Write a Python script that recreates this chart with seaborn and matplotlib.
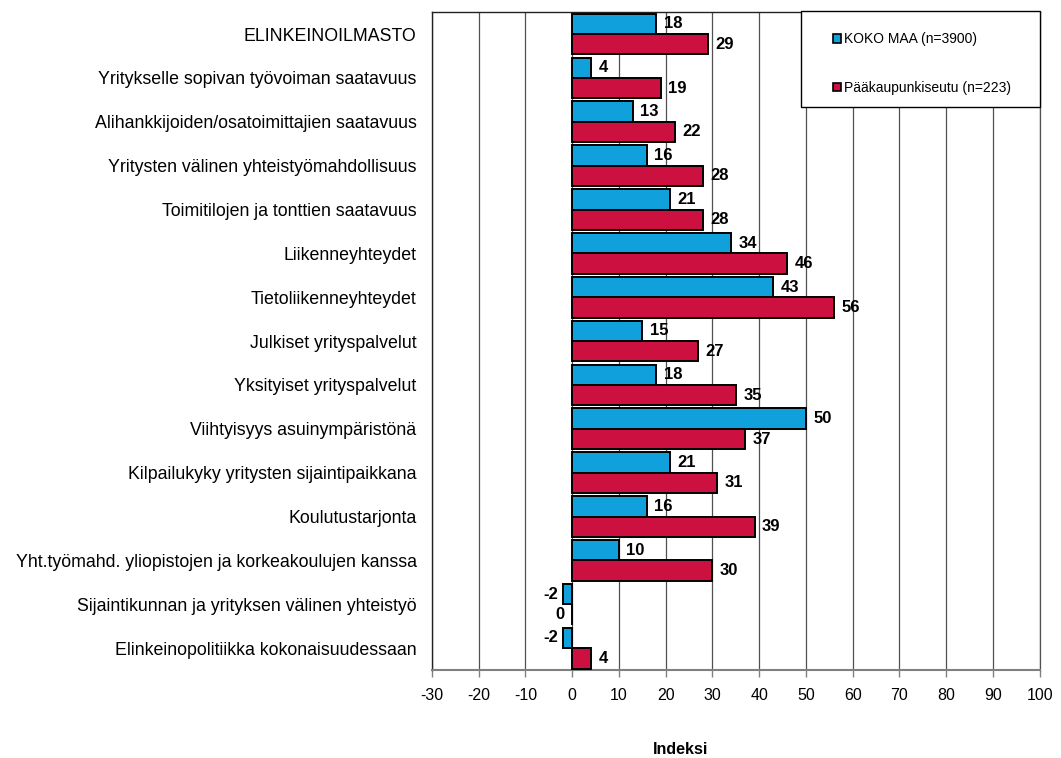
import pandas as pd
import numpy as np
import matplotlib
matplotlib.use("Agg")
import matplotlib.pyplot as plt
from matplotlib.patches import Rectangle
import seaborn as sns

categories = [
    "ELINKEINOILMASTO",
    "Yritykselle sopivan työvoiman saatavuus",
    "Alihankkijoiden/osatoimittajien saatavuus",
    "Yritysten välinen yhteistyömahdollisuus",
    "Toimitilojen ja tonttien saatavuus",
    "Liikenneyhteydet",
    "Tietoliikenneyhteydet",
    "Julkiset yrityspalvelut",
    "Yksityiset yrityspalvelut",
    "Viihtyisyys asuinympäristönä",
    "Kilpailukyky yritysten sijaintipaikkana",
    "Koulutustarjonta",
    "Yht.työmahd. yliopistojen ja korkeakoulujen kanssa",
    "Sijaintikunnan ja yrityksen välinen yhteistyö",
    "Elinkeinopolitiikka kokonaisuudessaan",
]
koko_maa = [18, 4, 13, 16, 21, 34, 43, 15, 18, 50, 21, 16, 10, -2, -2]
paakaupunkiseutu = [29, 19, 22, 28, 28, 46, 56, 27, 35, 37, 31, 39, 30, 0, 4]
series_names = ["KOKO MAA (n=3900)", "Pääkaupunkiseutu (n=223)"]
xticks = list(range(-30, 101, 10))

df = pd.DataFrame({
    "Kategoria": categories * 2,
    "Indeksi": koko_maa + paakaupunkiseutu,
    "Sarja": [series_names[0]] * len(categories) + [series_names[1]] * len(categories),
})

sns.set_theme(style="white")
plt.rcParams["font.family"] = ["Liberation Sans", "DejaVu Sans"]
plt.rcParams["text.color"] = "black"
plt.rcParams["axes.labelcolor"] = "black"

fig = plt.figure(figsize=(10.61, 7.58), dpi=100)
ax = fig.add_axes([0.407, 0.116, 0.573, 0.868])

palette = {series_names[0]: "#10A0DC", series_names[1]: "#CC1040"}
sns.barplot(data=df, y="Kategoria", x="Indeksi", hue="Sarja", order=categories,
            hue_order=series_names, palette=palette, orient="h", width=0.93,
            edgecolor="black", linewidth=1.4, saturation=1, ax=ax, zorder=3,
            legend=True)

# value labels
for cont in ax.containers:
    for bar in cont:
        v = bar.get_width()
        yc = bar.get_y() + bar.get_height() / 2
        if v < 0:
            ax.text(v - 1.0, yc, f"{v:.0f}", ha="right", va="center",
                    fontsize=12, fontweight="bold", color="black", zorder=4)
        elif v == 0:
            ax.text(v - 1.6, yc, f"{v:.0f}", ha="right", va="center",
                    fontsize=12, fontweight="bold", color="black", zorder=4)
        else:
            ax.text(v + 1.6, yc, f"{v:.0f}", ha="left", va="center",
                    fontsize=12, fontweight="bold", color="black", zorder=4)

ax.set_xlim(-30, 100)
ax.set_xticks(xticks)
ax.set_xticklabels([str(t) for t in xticks], fontsize=11.5)
ax.tick_params(axis="x", direction="out", length=5, color="#808080", width=1,
               bottom=True, pad=8, labelcolor="black")
ax.tick_params(axis="y", length=0, labelsize=12.8, pad=11, labelcolor="black")
ax.xaxis.grid(True, color="#505050", linewidth=0.9, zorder=0)
ax.yaxis.grid(False)
ax.set_axisbelow(True)
ax.set_ylabel("")
ax.set_xlabel("")
fig.text(0.641, 0.011, "Indeksi", ha="center", va="center",
         fontsize=11.5, fontweight="bold", color="black")

for s in ["top", "left"]:
    ax.spines[s].set_color("#222222")
    ax.spines[s].set_linewidth(1)
ax.spines["right"].set_color("#505050")
ax.spines["right"].set_linewidth(0.9)
ax.spines["bottom"].set_color("#808080")
ax.spines["bottom"].set_linewidth(1.5)

# legend box
ax.add_patch(Rectangle((0.607, 0.856), 0.393, 0.146, transform=ax.transAxes,
                       facecolor="white", edgecolor="black", linewidth=1,
                       zorder=5, clip_on=False))
leg = ax.legend(loc="center", bbox_to_anchor=(0.806, 0.922), frameon=False,
                fontsize=10, handlelength=0.6, handleheight=0.6,
                handletextpad=0.2, borderpad=0, labelspacing=2.5)
for h in leg.legend_handles:
    h.set_linewidth(1.2)
for t in leg.get_texts():
    t.set_color("black")
leg.set_zorder(6)

fig.savefig("out.png", dpi=100)
